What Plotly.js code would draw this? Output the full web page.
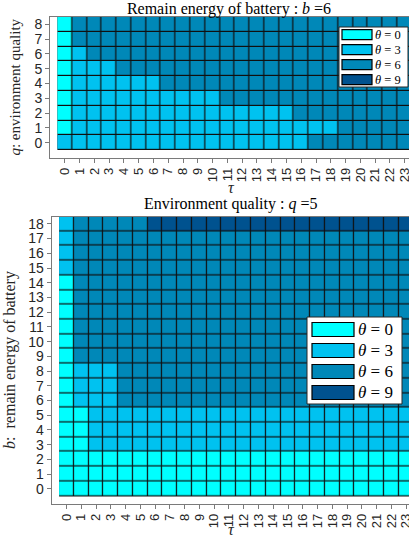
<!DOCTYPE html>
<html>
<head>
<meta charset="utf-8">
<script src="https://cdn.plot.ly/plotly-3.0.1.min.js"></script>
<style>html,body{margin:0;padding:0;background:#fff;}#chart{width:409px;height:539px;}</style>
</head>
<body>
<div id="chart"></div>
<script>
// ---- data ----
const tau = [0,1,2,3,4,5,6,7,8,9,10,11,12,13,14,15,16,17,18,19,20,21,22,23];
const qLevels = [0,1,2,3,4,5,6,7,8];
const bLevels = [0,1,2,3,4,5,6,7,8,9,10,11,12,13,14,15,16,17,18];
const thetaValues = [0,3,6,9];

// top: theta(q, tau) at b = 6
const thetaTop = [
  [3,3,3,3,3,3,3,3,3,3,3,3,3,3,3,3,3,6,6,6,6,6,6,6], // q=0
  [0,3,3,3,3,3,3,3,3,3,3,3,3,3,3,3,3,3,3,6,6,6,6,6], // q=1
  [0,3,3,3,3,3,3,3,3,3,3,3,3,3,3,3,6,6,6,6,6,6,6,6], // q=2
  [0,3,3,3,3,3,3,3,3,3,3,6,6,6,6,6,6,6,6,6,6,6,6,6], // q=3
  [0,3,3,3,3,3,3,6,6,6,6,6,6,6,6,6,6,6,6,6,6,6,6,6], // q=4
  [0,3,3,3,6,6,6,6,6,6,6,6,6,6,6,6,6,6,6,6,6,6,6,6], // q=5
  [0,3,6,6,6,6,6,6,6,6,6,6,6,6,6,6,6,6,6,6,6,6,6,6], // q=6
  [0,6,6,6,6,6,6,6,6,6,6,6,6,6,6,6,6,6,6,6,6,6,6,6], // q=7
  [0,6,6,6,6,6,6,6,6,6,6,6,6,6,6,6,6,6,6,6,6,6,6,6]  // q=8
];

// bottom: theta(b, tau) at q = 5
const thetaBottom = [
  [0,0,0,0,0,0,0,0,0,0,0,0,0,0,0,0,0,0,0,0,0,0,0,0], // b=0
  [0,0,0,0,0,0,0,0,0,0,0,0,0,0,0,0,0,0,0,0,0,0,0,0], // b=1
  [0,0,0,0,0,0,0,0,0,0,0,0,0,0,0,0,0,0,0,0,0,0,0,0], // b=2
  [0,0,3,3,3,3,3,3,3,3,3,3,3,3,3,3,3,3,3,3,3,3,3,3], // b=3
  [0,0,3,3,3,3,3,3,3,3,3,3,3,3,3,3,3,3,3,3,3,3,3,3], // b=4
  [0,0,3,3,3,3,3,3,3,3,3,3,3,3,3,3,3,3,3,3,3,3,3,3], // b=5
  [0,3,3,3,6,6,6,6,6,6,6,6,6,6,6,6,6,6,6,6,6,6,6,6], // b=6
  [0,3,3,3,6,6,6,6,6,6,6,6,6,6,6,6,6,6,6,6,6,6,6,6], // b=7
  [0,3,3,3,6,6,6,6,6,6,6,6,6,6,6,6,6,6,6,6,6,6,6,6], // b=8
  [0,6,6,6,6,6,6,6,6,6,6,6,6,6,6,6,6,6,6,6,6,6,6,6], // b=9
  [0,6,6,6,6,6,6,6,6,6,6,6,6,6,6,6,6,6,6,6,6,6,6,6], // b=10
  [0,6,6,6,6,6,6,6,6,6,6,6,6,6,6,6,6,6,6,6,6,6,6,6], // b=11
  [0,6,6,6,6,6,6,6,6,6,6,6,6,6,6,6,6,6,6,6,6,6,6,6], // b=12
  [0,6,6,6,6,6,6,6,6,6,6,6,6,6,6,6,6,6,6,6,6,6,6,6], // b=13
  [0,6,6,6,6,6,6,6,6,6,6,6,6,6,6,6,6,6,6,6,6,6,6,6], // b=14
  [3,6,6,6,6,6,6,6,6,6,6,6,6,6,6,6,6,6,6,6,6,6,6,6], // b=15
  [3,6,6,6,6,6,6,6,6,6,6,6,6,6,6,6,6,6,6,6,6,6,6,6], // b=16
  [3,6,6,6,6,6,6,6,6,6,6,6,6,6,6,6,6,6,6,6,6,6,6,6], // b=17
  [3,6,6,6,6,6,9,9,9,9,9,9,9,9,9,9,9,9,9,9,9,9,9,9]  // b=18
];

// ---- styles ----
const thetaColors = ['#00FFFF', '#00C2F0', '#0088B8', '#00528F'];
const W = 409, H = 539;
const px = x => x / W;
const py = y => 1 - y / H;

const cs = thetaValues.map((v, i) => [ (v - thetaValues[0]) / (thetaValues[3] - thetaValues[0]), thetaColors[i] ]);
const blackCS = [[0, '#101010'], [1, '#101010']];

const sans = 'Liberation Sans, Arial, sans-serif';
const serif = 'Liberation Serif, Times New Roman, serif';
const axisCol = '#7a7a7a';

function underlay(z, ys, xa, ya) {
  return { type: 'heatmap', x: tau, y: ys,
    z: z.map(r => r.map(() => 0)), zmin: 0, zmax: 1, colorscale: blackCS,
    showscale: false, hoverinfo: 'skip', xaxis: xa, yaxis: ya };
}
function grid(z, ys, xa, ya) {
  return { type: 'heatmap', x: tau, y: ys, z: z, zmin: thetaValues[0], zmax: thetaValues[3],
    colorscale: cs, showscale: false, xgap: 1.2, ygap: 1.2, xaxis: xa, yaxis: ya };
}

const traces = [
  underlay(thetaTop, qLevels, 'x', 'y'), grid(thetaTop, qLevels, 'x', 'y'),
  underlay(thetaBottom, bLevels, 'x2', 'y2'), grid(thetaBottom, bLevels, 'x2', 'y2')
];

function xAxisDef(domain, range, anchor) {
  return { domain: domain, range: range, anchor: anchor, tickmode: 'array', tickvals: tau,
    ticktext: tau.map(String), tickangle: -90, ticks: 'outside', ticklen: 4, tickcolor: axisCol,
    showline: true, linecolor: axisCol, linewidth: 1, mirror: true, showgrid: false, zeroline: false,
    ticklabeloverflow: 'allow',
    tickfont: { family: sans, size: 13, color: '#262626' } };
}
function yAxisDef(domain, range, anchor, vals, title, standoff, fs) {
  return { domain: domain, range: range, anchor: anchor, tickmode: 'array', tickvals: vals,
    ticktext: vals.map(String), ticks: 'outside', ticklen: 4, tickcolor: axisCol,
    showline: true, linecolor: axisCol, linewidth: 1, mirror: true, showgrid: false, zeroline: false,
    tickfont: { family: sans, size: 14, color: '#262626' },
    title: { text: title, font: { family: serif, size: fs, color: '#262626' }, standoff: standoff } };
}

const shapes = [];
const annotations = [];

function legend(x0, y0, x1, y1, pl, pr, cy0, dy, ph, tx, fs) {
  shapes.push({ type: 'rect', xref: 'paper', yref: 'paper', x0: px(x0), x1: px(x1), y0: py(y0), y1: py(y1),
    fillcolor: '#ffffff', line: { color: '#262626', width: 1 } });
  thetaValues.forEach((v, i) => {
    const cy = cy0 + i * dy;
    shapes.push({ type: 'rect', xref: 'paper', yref: 'paper', x0: px(pl), x1: px(pr),
      y0: py(cy - ph / 2), y1: py(cy + ph / 2), fillcolor: thetaColors[i], line: { color: '#000', width: 1.2 } });
    annotations.push({ xref: 'paper', yref: 'paper', x: px(tx), y: py(cy), xanchor: 'left', yanchor: 'middle',
      showarrow: false, text: '<i>θ</i> = ' + v, font: { family: serif, size: fs, color: '#000' } });
  });
}
legend(339, 27, 408, 87, 342, 372, 34.7, 15, 10, 373, 12.5);
legend(307, 317, 402, 404, 312, 354, 329.5, 21, 14, 356, 17);

annotations.push({ xref: 'paper', yref: 'paper', x: px(230), y: py(204), xanchor: 'center', yanchor: 'middle',
  showarrow: false, text: 'Environment quality : <i>q</i> =5', font: { family: serif, size: 16, color: '#000' } });
annotations.push({ xref: 'paper', yref: 'paper', x: px(231), y: py(188), xanchor: 'center', yanchor: 'middle',
  showarrow: false, text: '<i>τ</i>', font: { family: serif, size: 16, color: '#262626' } });
annotations.push({ xref: 'paper', yref: 'paper', x: px(231), y: 0, xanchor: 'center', yanchor: 'bottom',
  showarrow: false, borderpad: 0, text: '<i>τ</i>', font: { family: serif, size: 16, color: '#262626' } });

const layout = {
  width: W, height: H, margin: { l: 0, r: 0, t: 0, b: 0 },
  paper_bgcolor: '#fff', plot_bgcolor: '#fff', showlegend: false,
  title: { text: 'Remain energy of battery : <i>b</i> =6', font: { family: serif, size: 16, color: '#000' },
    x: px(229), xanchor: 'center', y: py(8), yanchor: 'middle', xref: 'paper', yref: 'paper' },
  xaxis: xAxisDef([px(50), 1], [-1, 23.29], 'y'),
  yaxis: yAxisDef([py(157.5), py(17)], [-1, 8.5], 'x', qLevels, '<i>q</i>: environment quality', 10, 15),
  xaxis2: xAxisDef([px(51.7), 1], [-1, 23.19], 'y2'),
  yaxis2: yAxisDef([py(503.5), py(216.5)], [-1, 18.5], 'x2', bLevels, '<i>b</i>:  remain energy of battery', 8, 16),
  shapes: shapes, annotations: annotations
};

Plotly.newPlot('chart', traces, layout, { displayModeBar: false, staticPlot: true });
</script>
</body>
</html>
